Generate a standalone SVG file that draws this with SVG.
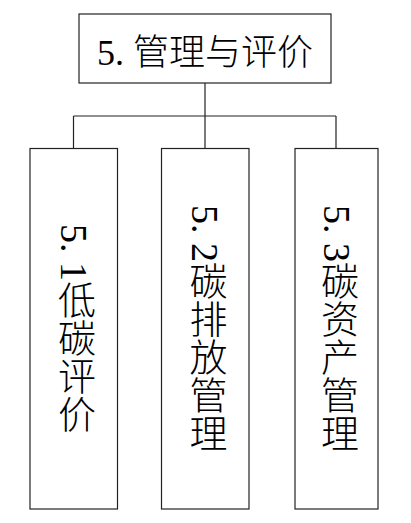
<svg xmlns="http://www.w3.org/2000/svg" width="411" height="523" viewBox="0 0 411 523">
<style>
.box{fill:#fff;stroke:#222;stroke-width:1.2}
.conn{fill:none;stroke:#222;stroke-width:1.2}
.t{font-family:"Liberation Serif","Noto Sans CJK SC",serif;fill:#000;font-weight:300}
.top{font-size:36px}
.v{font-size:38px;writing-mode:vertical-rl;text-orientation:mixed}
</style>
<rect width="411" height="523" fill="#fff"/>
<g id="connectors">
<path class="conn" d="M205,83 V116 M73.5,116 H336 M73.5,116 V148.5 M205,116 V148.5 M336,116 V148.5"/>
</g>
<g id="n0">
<rect class="box" x="79" y="14" width="252" height="69"/>
<text class="t top" x="205" y="65" text-anchor="middle">5. 管理与评价</text>
</g>
<g id="n1">
<rect class="box" x="30" y="148.5" width="87.5" height="360.5"/>
<text class="t v" x="73.5" y="224">5. 1低碳评价</text>
</g>
<g id="n2">
<rect class="box" x="161.5" y="148.5" width="87.5" height="360.5"/>
<text class="t v" x="205" y="205">5. 2碳排放管理</text>
</g>
<g id="n3">
<rect class="box" x="295" y="148.5" width="83" height="360.5"/>
<text class="t v" x="336.5" y="205">5. 3碳资产管理</text>
</g>
</svg>
